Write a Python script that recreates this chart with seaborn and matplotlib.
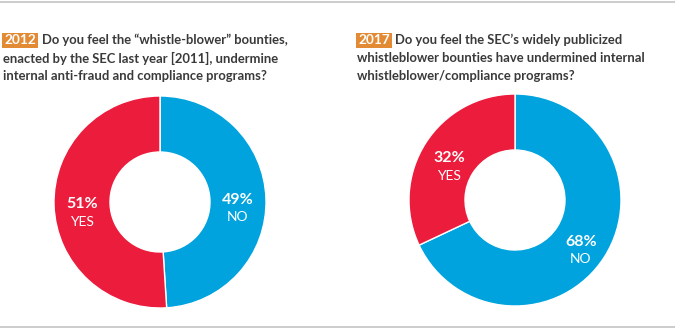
import matplotlib
matplotlib.use("Agg")
import matplotlib.pyplot as plt
import seaborn as sns
import numpy as np
from matplotlib.lines import Line2D
from matplotlib.patches import Rectangle

# ---- data ----
categories = ["NO", "YES"]
values_2012 = [49, 51]
values_2017 = [68, 32]
years = ["2012", "2017"]
questions = [
    ["Do you feel the \u201cwhistle-blower\u201d bounties,",
     "enacted by the SEC last year [2011], undermine",
     "internal anti-fraud and compliance programs?"],
    ["Do you feel the SEC\u2019s widely publicized",
     "whistleblower bounties have undermined internal",
     "whistleblower/compliance programs?"],
]

sns.set_theme(style="white")
plt.rcParams['font.family'] = ['Lato', 'DejaVu Sans']

W, H = 675, 329
fig = plt.figure(figsize=(W / 100, H / 100), dpi=100)
fig.patch.set_facecolor("white")

palette = {"NO": "#00A3DE", "YES": "#EC1C3D"}
orange = "#E38A35"
textc = "#3a3a3a"

def fx(x):
    return x / W

def fy(y):
    return 1 - y / H

# frame lines
fig.add_artist(Line2D([0, 1], [fy(2), fy(2)], color="#c4c4c4", lw=1.2, transform=fig.transFigure))
fig.add_artist(Line2D([0, 1], [fy(326.5), fy(326.5)], color="#c4c4c4", lw=1.2, transform=fig.transFigure))

centers = [(160, 202), (515, 200)]
R = 106
ring = 56  # ring width in px
data = [values_2012, values_2017]

for (cx, cy), vals in zip(centers, data):
    ax = fig.add_axes([fx(cx - R), fy(cy + R), 2 * R / W, 2 * R / H])
    cols = [palette[c] for c in categories]
    wedges, _ = ax.pie(vals, colors=cols, startangle=90, counterclock=False,
                       radius=1.0,
                       wedgeprops=dict(width=ring / R, edgecolor="white", linewidth=1.0))
    ax.set_xlim(-1, 1)
    ax.set_ylim(-1, 1)
    ax.set_aspect("equal")
    ax.axis("off")
    total = sum(vals)
    start = 90.0
    rmid = 1 - (ring / R) / 2
    for c, v in zip(categories, vals):
        ang = start - 360.0 * v / total / 2
        start -= 360.0 * v / total
        x = rmid * np.cos(np.radians(ang))
        y = rmid * np.sin(np.radians(ang))
        ax.text(x, y, f"{v}%", color="white", fontsize=11.5, fontweight="bold",
                ha="center", va="center")
        ax.text(x, y - 0.165, c, color="white", fontsize=10,
                ha="center", va="center")

# titles
box_x = [2, 356]
text_x = [42, 395]
for bx, tx, yr, q in zip(box_x, text_x, years, questions):
    fig.add_artist(Rectangle((fx(bx), fy(48)), 36 / W, 15 / H, transform=fig.transFigure,
                             fc=orange, ec="none"))
    fig.text(fx(bx + 18), fy(40.5), yr, color="white", fontsize=9.8, fontweight="bold",
             ha="center", va="center")
    fig.text(fx(tx), fy(40), q[0], color=textc, fontsize=9.4, fontweight="bold",
             ha="left", va="center")
    fig.text(fx(bx + 1), fy(58), q[1], color=textc, fontsize=9.4, fontweight="bold",
             ha="left", va="center")
    fig.text(fx(bx + 1), fy(76), q[2], color=textc, fontsize=9.4, fontweight="bold",
             ha="left", va="center")

fig.savefig("out.png", dpi=100, facecolor="white")
